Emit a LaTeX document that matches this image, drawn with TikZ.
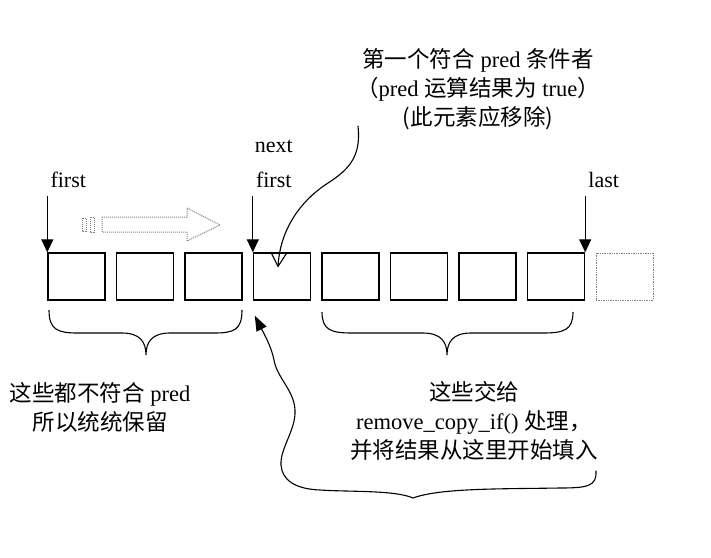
\documentclass[tikz,border=0pt]{standalone}
\usepackage{fontspec}
\setmainfont{Liberation Serif}
\newfontfamily\cjk{Noto Sans CJK SC}
\usetikzlibrary{positioning, arrows.meta}

\begin{document}
\begin{tikzpicture}[x=1pt, y=-1pt, node distance=68.5pt, auto,
        box/.style={draw, rectangle, line width=1.4pt, minimum width=57pt, minimum height=47pt, inner sep=0pt},
        ghost/.style={draw=gray, densely dotted, line width=1pt},
        lbl/.style={inner sep=0pt, text height=15pt, text depth=4pt, font=\fontsize{22}{29}\selectfont},
        txt/.style={inner sep=0pt, align=center, font=\fontsize{22.5}{29}\selectfont},
        ptr/.style={line width=1.2pt, -{Triangle[length=13pt, width=12pt]}},
        wire/.style={line width=1.1pt}]
        \useasboundingbox (0,0) rectangle (711,557);

        % Boxes
        \node (b1) [box] at (76.5,276.5) {};
        \node (b2) [box, right of=b1] {};
        \node (b3) [box, right of=b2] {};
        \node (b4) [box, right of=b3] {};
        \node (b5) [box, right of=b4] {};
        \node (b6) [box, right of=b5] {};
        \node (b7) [box, right of=b6] {};
        \node (b8) [box, right of=b7] {};
        \node (b9) [box, ghost, right of=b8] {};

        % Iterators
        \coordinate [above=56pt of b1.north west] (t1);
        \coordinate [above=56pt of b4.north west] (t4);
        \coordinate [above=56pt of b8.north east] (t8);
        \node (lfirst) [lbl, above right=5pt and 3pt of t1] {first};
        \node (lfirstb) [lbl, above right=5pt and 3pt of t4] {first};
        \node (lnext) [lbl, above of=lfirstb, node distance=35pt] {next};
        \node (llast) [lbl, above right=5pt and 3pt of t8] {last};
        \draw[ptr] (t1) -- (b1.north west);
        \draw[ptr] (t4) -- (b4.north west);
        \draw[ptr] (t8) -- (b8.north east);

        % Moving direction
        \draw[ghost] (102,217) -- (187,217) -- (187,208) -- (220,225) -- (187,241) -- (187,232) -- (102,232) -- cycle;
        \draw[ghost] (82,218) rectangle (86,231);
        \draw[ghost] (90,217) rectangle (94,232);

        % Notes
        \node (note) [txt] at (478,89) {{\cjk 第一个符合} pred {\cjk 条件者}\\{\cjk （}pred {\cjk 运算结果为} true{\cjk ）}\\{\cjk (此元素应移除)}};
        \node (keep) [txt] at (100,407) {{\cjk 这些都不符合} pred\\{\cjk 所以统统保留}};
        \node (rest) [txt] at (474,421) {{\cjk 这些交给}\\remove\_copy\_if() {\cjk 处理，}\\{\cjk 并将结果从这里开始填入}};

        % Braces
        \draw[wire] (49,310) .. controls (49,330) and (58,333) .. (78,333) -- (122,333)
            .. controls (140,333) and (146,342) .. (146,355)
            .. controls (146,342) and (152,333) .. (170,333) -- (214,333)
            .. controls (234,333) and (242,330) .. (242,310);
        \draw[wire] (322,312) .. controls (322,330) and (331,333) .. (352,333) -- (423,333)
            .. controls (441,333) and (447,342) .. (447,355)
            .. controls (447,342) and (453,333) .. (471,333) -- (543,333)
            .. controls (564,333) and (573,330) .. (573,312);

        % Arrows
        \draw[wire, -{Straight Barb[length=13pt, width=15pt]}] ([shift={(2pt,4pt)}]note.south west)
            .. controls (362,160) and (345,172) .. (325,185)
            .. controls (300,202) and (280,230) .. ([shift={(-4pt,9pt)}]b4.center);
        \draw[wire, -{Triangle[length=15pt, width=11pt]}] ([shift={(-2pt,-10pt)}]rest.south east)
            .. controls (597,486) and (588,488) .. (560,488)
            .. controls (500,489) and (440,488) .. (413,498)
            .. controls (395,490) and (350,492) .. (320,490)
            .. controls (295,489) and (282,480) .. (281,465)
            .. controls (280,448) and (296,430) .. (295,410)
            .. controls (294,390) and (277,378) .. (274,360)
            .. controls (271,345) and (262,330) .. ([shift={(2pt,-15pt)}]b4.south west);
\end{tikzpicture}
\end{document}
